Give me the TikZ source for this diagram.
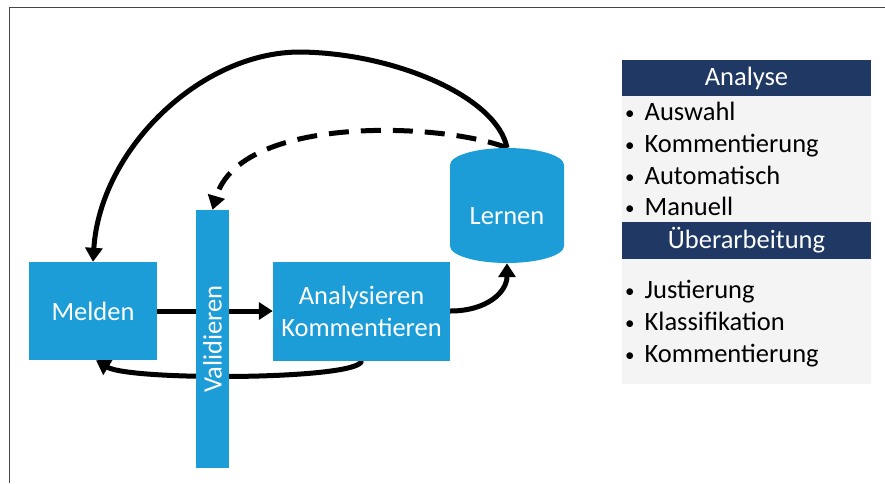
\documentclass[tikz,border=0pt]{standalone}
\usepackage{fontspec}
\setmainfont{Carlito}
\usetikzlibrary{arrows.meta,backgrounds}
\definecolor{boxblue}{RGB}{28,157,216}
\definecolor{navy}{RGB}{31,56,100}
\definecolor{panelgrey}{RGB}{244,244,244}
\definecolor{framegrey}{RGB}{70,70,70}
\newcommand{\dotitem}{{\fontsize{19}{19}\selectfont\raisebox{1pt}{•}}\hspace{10pt}}

\begin{document}
\begin{tikzpicture}[x=1pt,y=-1pt,
  bigfont/.style={font=\fontsize{26.5}{32}\selectfont},
  stage/.style={fill=boxblue, text=white, inner sep=0pt, align=center, bigfont},
  flow/.style={line width=5pt, -{Triangle[length=14pt,width=17pt]}},
  head/.style={fill=navy, text=white, inner sep=0pt, minimum width=249pt, minimum height=37pt, bigfont},
  panel/.style={fill=panelgrey, inner sep=0pt, minimum width=249pt},
  item/.style={anchor=base west, inner sep=0pt, bigfont}]
\useasboundingbox (0,0) rectangle (885,483);

% frame lines (top and left)
\draw[framegrey, line width=1.5pt] (885,7.5) -- (9.5,7.5) -- (9.5,483);

% process stages
\node[stage, minimum width=128pt, minimum height=98pt] (melden) at (93,311) {Melden};
\node[stage, minimum width=33pt, minimum height=258pt] (valid) at (212.5,339) {\rotatebox{90}{Validieren}};
\node[stage, minimum width=177pt, minimum height=99pt] (analy) at (361.5,311) {Analysieren\\Kommentieren};

% Lernen: cylinder drawn as a filled outline, named node for anchors
\node[inner sep=0pt, minimum width=114pt, minimum height=115pt] (lernen) at (507,205.5) {};
\fill[boxblue] (450,165) arc[start angle=180, end angle=360, x radius=57, y radius=17]
  -- (564,246) arc[start angle=0, end angle=180, x radius=57, y radius=17] -- cycle;
\node[text=white, bigfont, inner sep=0pt] (lernentext) at (507,216) {Lernen};

% connectors
\begin{scope}[on background layer]
  \draw[flow] (melden.east) -- (analy.west);
  \draw[flow] (analy.south) .. controls (361,380) and (130,381) .. (melden.south -| 96,0);
  \draw[flow] (analy.east) .. controls (487,311) and (507,292) .. (lernen.south);
  \draw[flow] (lernen.north) .. controls (497,97) and (395,53) .. (300,52)
     .. controls (200,52) and (100,150) .. (melden.north);
  \draw[flow, dash pattern=on 20pt off 12pt] (lernen.north) .. controls (440,122) and (240,115) .. (valid.north);
\end{scope}

% side panel
\node[head] (h1) at (746.5,78) {Analyse};
\node[panel, minimum height=126pt] (p1) at (746.5,159) {};
\node[head] (h2) at (746.5,240.5) {Überarbeitung};
\node[panel, minimum height=125pt] (p2) at (746.5,321.5) {};

\node[item] (a1) at (625,120) {\dotitem Auswahl};
\node[item] (a2) at (625,152) {\dotitem Kommentierung};
\node[item] (a3) at (625,184) {\dotitem Automatisch};
\node[item] (a4) at (625,215) {\dotitem Manuell};
\node[item] (b1) at (625,298) {\dotitem Justierung};
\node[item] (b2) at (625,330) {\dotitem Klassifikation};
\node[item] (b3) at (625,362) {\dotitem Kommentierung};
\end{tikzpicture}
\end{document}
